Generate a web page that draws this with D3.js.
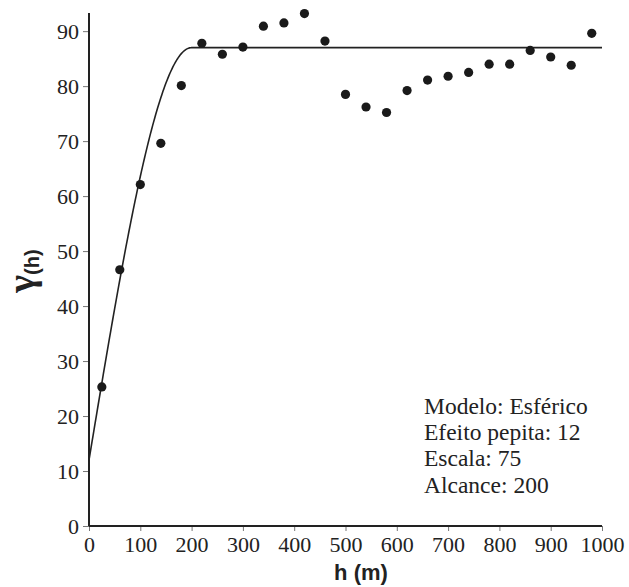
<!DOCTYPE html>
<html>
<head>
<meta charset="utf-8">
<script src="https://d3js.org/d3.v7.min.js"></script>
<style>
  body { margin: 0; background: #fff; }
  svg { display: block; }
</style>
</head>
<body>
<div id="chart"></div>
<script>
// chart size = window size
var svgWidth = 629;
var svgHeight = 587;

var margin = { top: 13, right: 27, bottom: 61, left: 89 };
var width = svgWidth - margin.left - margin.right;
var height = svgHeight - margin.top - margin.bottom;

// experimental semivariogram points
var lagH = [25, 60, 100, 140, 180, 220, 260, 300, 340, 380, 420, 460, 500, 540,
            580, 620, 660, 700, 740, 780, 820, 860, 900, 940, 980];
var gammaH = [25.3, 46.6, 62.1, 69.6, 80.1, 87.8, 85.8, 87.1, 90.9, 91.5, 93.2, 88.2, 78.5, 76.2,
              75.2, 79.2, 81.1, 81.8, 82.5, 84.0, 84.0, 86.5, 85.3, 83.8, 89.6];

// fitted spherical model parameters (from the annotation)
var nugget = 12;
var sillPart = 75;
var range = 200;

var xTicks = [0, 100, 200, 300, 400, 500, 600, 700, 800, 900, 1000];
var yTicks = [0, 10, 20, 30, 40, 50, 60, 70, 80, 90];
var infoLines = ["Modelo: Esférico", "Efeito pepita: 12", "Escala: 75", "Alcance: 200"];

var serif = "Liberation Serif";
var sans = "Liberation Sans";

var svg = d3.select("#chart")
  .append("svg")
  .attr("width", svgWidth)
  .attr("height", svgHeight);

var chartGroup = svg.append("g")
  .attr("transform", `translate(${margin.left}, ${margin.top})`);

var xScale = d3.scaleLinear().domain([0, 1000]).range([0, width]);
var yScale = d3.scaleLinear().domain([0, 93.3]).range([height, 0]);

// axes
var bottomAxis = d3.axisBottom(xScale).tickValues(xTicks).tickFormat(d3.format("d"))
  .tickSize(5).tickSizeOuter(0).tickPadding(5);
var leftAxis = d3.axisLeft(yScale).tickValues(yTicks).tickFormat(d3.format("d"))
  .tickSize(6).tickSizeOuter(0).tickPadding(4);

var xAxisG = chartGroup.append("g")
  .attr("transform", `translate(0, ${height})`)
  .call(bottomAxis);
var yAxisG = chartGroup.append("g").call(leftAxis);

[xAxisG, yAxisG].forEach(function(g) {
  g.attr("font-family", serif).attr("font-size", 22);
  g.selectAll(".tick line").attr("stroke", "#777").attr("stroke-width", 1);
  g.selectAll(".tick text").attr("fill", "#222");
  g.select(".domain").remove();
});

// axis lines drawn full length
chartGroup.append("line")
  .attr("x1", 0).attr("x2", 0).attr("y1", 0).attr("y2", height)
  .attr("stroke", "#222").attr("stroke-width", 2);
chartGroup.append("line")
  .attr("x1", 0).attr("x2", width).attr("y1", height).attr("y2", height)
  .attr("stroke", "#222").attr("stroke-width", 2);

// spherical model
function spherical(h) {
  if (h >= range) return nugget + sillPart;
  var r = h / range;
  return nugget + sillPart * (1.5 * r - 0.5 * r * r * r);
}
var modelH = d3.range(0, 1001, 2);
var line = d3.line()
  .x(d => xScale(d))
  .y(d => yScale(spherical(d)));

chartGroup.append("path")
  .attr("d", line(modelH))
  .attr("fill", "none")
  .attr("stroke", "#222")
  .attr("stroke-width", 1.6);

// points
chartGroup.selectAll("circle")
  .data(lagH)
  .enter()
  .append("circle")
  .attr("cx", d => xScale(d))
  .attr("cy", (d, i) => yScale(gammaH[i]))
  .attr("r", 4.6)
  .attr("fill", "#1a1a1a");

// model info
svg.append("text")
  .attr("font-family", serif)
  .attr("font-size", 23.5)
  .attr("fill", "#222")
  .selectAll("tspan")
  .data(infoLines)
  .enter()
  .append("tspan")
  .attr("x", 424)
  .attr("y", (d, i) => 414 + i * 26.2)
  .text(d => d);

// axis titles
svg.append("text")
  .attr("x", 361)
  .attr("y", 580)
  .attr("text-anchor", "middle")
  .attr("font-family", sans)
  .attr("font-weight", "bold")
  .attr("font-size", 22)
  .attr("fill", "#222")
  .text("h (m)");

var yTitle = svg.append("text")
  .attr("transform", "translate(34, 271) rotate(-90)")
  .attr("text-anchor", "middle")
  .attr("font-weight", "bold")
  .attr("fill", "#222");
yTitle.append("tspan").attr("font-family", serif).attr("font-size", 38).text("γ");
yTitle.append("tspan").attr("font-family", sans).attr("font-size", 20).attr("dy", 5).text("(h)");
</script>
</body>
</html>
